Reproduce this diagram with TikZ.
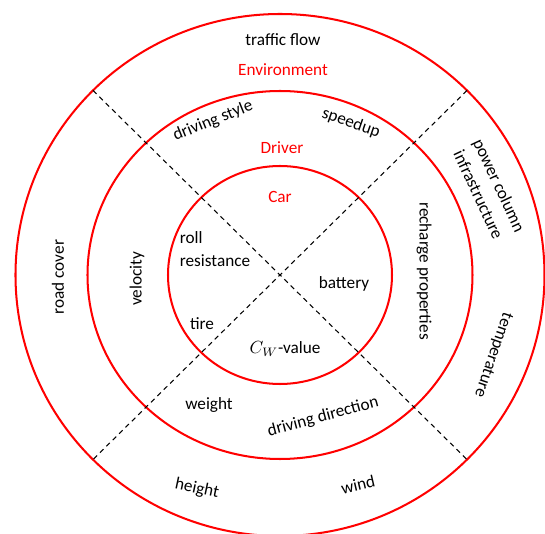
\documentclass[tikz,border=0pt]{standalone}
\usepackage{fontspec}
\setmainfont{Carlito}
\usepackage{tikz}

\begin{document}
\begin{tikzpicture}[x=0.02cm, y=0.02cm,
    ring/.style={red, line width=1.15pt},
    divider/.style={black, line width=0.6pt, dash pattern=on 2.8pt off 2.3pt},
    lbl/.style={font=\fontsize{9.8}{13}\selectfont, inner sep=0pt},
    head/.style={lbl, text=red}]
    \useasboundingbox (-280,-259) rectangle (265,275);

    % rings
    \coordinate (c) at (0,0);
    \draw[ring] (c) ellipse [x radius=264.5, y radius=261];
    \draw[ring] (c) ellipse [x radius=192.5, y radius=184];
    \draw[ring] (c) ellipse [x radius=112, y radius=109];

    % dividers
    \coordinate (ne) at (45:264.5 and 261);
    \coordinate (nw) at (135:264.5 and 261);
    \coordinate (sw) at (225:264.5 and 261);
    \coordinate (se) at (315:264.5 and 261);
    \draw[divider] (nw) -- (se);
    \draw[divider] (ne) -- (sw);

    % environment
    \node[lbl] (traffic) at (3,235) {traffic flow};
    \node[head] (env) at (3,205) {Environment};
    \node[lbl, rotate=90] (road) at (-222,-2) {road cover};
    \node[lbl, rotate=-65, align=center] (power) at (209,85) {power column\\infrastructure};
    \node[lbl, rotate=-109] (temp) at (213,-80) {temperature};
    \node[lbl, rotate=-12] (height) at (-83,-214) {height};
    \node[lbl, rotate=13] (wind) at (78,-210) {wind};

    % driver
    \node[lbl, rotate=22] (style) at (-67,154) {driving style};
    \node[lbl, rotate=-19] (speedup) at (71,152) {speedup};
    \node[head] (driver) at (2,127) {Driver};
    \node[lbl, rotate=90] (velocity) at (-143,-4) {velocity};
    \node[lbl, rotate=-90] (recharge) at (144,4) {recharge properties};
    \node[lbl] (weight) at (-71,-130) {weight};
    \node[lbl, rotate=15] (direction) at (43,-142) {driving direction};

    % car
    \node[head] (car) at (0,78) {Car};
    \node[lbl, align=left] (roll) at (-65,26) {roll\\resistance};
    \node[lbl] (battery) at (64,-9) {battery};
    \node[lbl] (tire) at (-78,-49) {tire};
    \node[lbl] (cw) at (5,-74) {$C_W$-value};

\end{tikzpicture}
\end{document}
